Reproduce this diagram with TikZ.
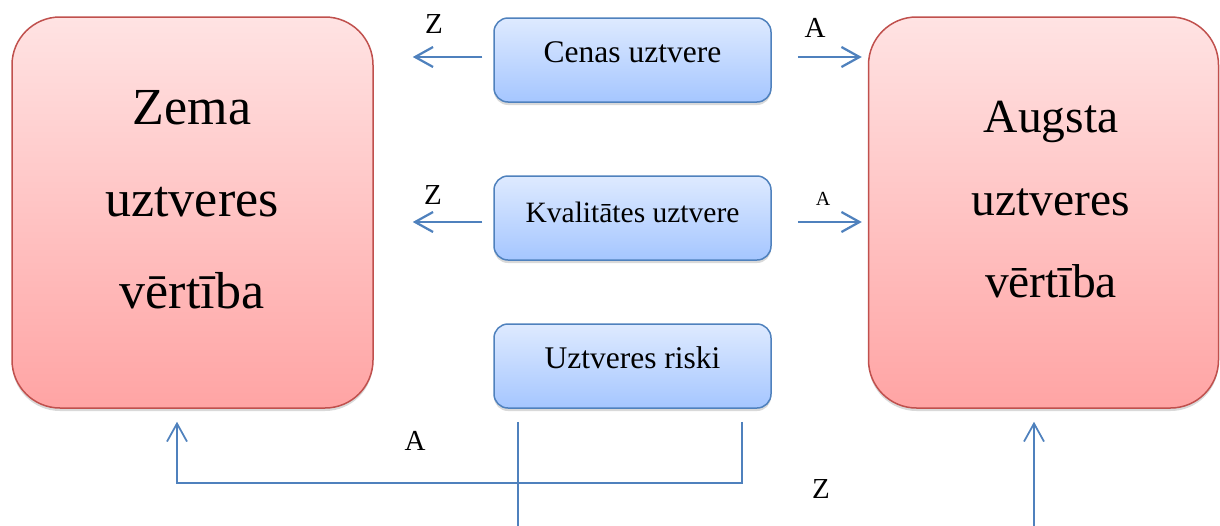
\documentclass[tikz,border=0pt]{standalone}
\usepackage{fontspec}
\setmainfont{Liberation Serif}
\usetikzlibrary{arrows.meta,shadows,calc}
\definecolor{arrblue}{RGB}{79,129,189}
\definecolor{redborder}{RGB}{192,80,77}
\definecolor{redtop}{RGB}{255,227,227}
\definecolor{redbot}{RGB}{255,164,164}
\definecolor{blueborder}{RGB}{79,129,189}
\definecolor{bluetop}{RGB}{222,234,255}
\definecolor{bluebot}{RGB}{165,198,255}
\begin{document}
\begin{tikzpicture}[x=1pt,y=-1pt,
  redbox/.style={draw=redborder, line width=1.5pt, rounded corners=48pt,
    top color=redtop, bottom color=redbot, minimum height=391pt, inner sep=0pt,
    drop shadow={opacity=0.3, shadow xshift=0pt, shadow yshift=-3pt}},
  bluebox/.style={draw=blueborder, line width=1.5pt, rounded corners=14pt,
    top color=bluetop, bottom color=bluebot, minimum width=277pt, minimum height=84pt,
    inner sep=0pt, font=\fontsize{31.5}{36}\selectfont,
    drop shadow={opacity=0.3, shadow xshift=0pt, shadow yshift=-3pt}},
  bigtxt/.style={align=center, inner sep=0pt},
  lbl/.style={anchor=base, inner sep=0pt, font=\fontsize{29}{34}\selectfont},
  arr/.style={draw=arrblue, line width=2.25pt, -{Straight Barb[length=18pt, width=20pt, line width=2.25pt]}},
  arrthin/.style={draw=arrblue, line width=1.75pt, -{Straight Barb[length=18pt, width=20pt, line width=1.75pt]}},
  plain/.style={draw=arrblue, line width=1.75pt}
]
\useasboundingbox (0,0) rectangle (1220,525);
\clip (0,0) rectangle (1220,525);

% big boxes
\node[redbox, minimum width=361pt] (low) at (192.5,212.5) {};
\node[redbox, minimum width=350pt] (high) at (1043.5,212.5) {};
\node[bigtxt, font=\fontsize{52}{92}\selectfont] (lowtxt) at (192,199.5) {Zema\\uztveres\\vērtība};
\node[bigtxt, font=\fontsize{47.5}{82.5}\selectfont] (hightxt) at (1051,200) {Augsta\\uztveres\\vērtība};

% blue boxes
\node[bluebox, text height=12pt, text depth=8pt] (cenas) at (632.5,60) {Cenas uztvere};
\node[bluebox, text height=14pt, text depth=6pt, font=\fontsize{29.5}{34}\selectfont] (kval) at (632.5,218) {Kvalitātes uztvere\hspace{26pt}};
\node[bluebox, text height=12pt, text depth=8pt] (riski) at (632.5,366) {Uztveres riski};

% horizontal arrows
\draw[arr] ($(cenas.west)+(-11,-3)$) -- ($(low.east |- cenas.west)+(39,-3)$);
\draw[arr] ($(cenas.east)+(26,-3)$) -- ($(high.west |- cenas.east)+(-6,-3)$);
\draw[arr] ($(kval.west)+(-11,4)$) -- ($(low.east |- kval.west)+(39,4)$);
\draw[arr] ($(kval.east)+(26,4)$) -- ($(high.west |- kval.east)+(-6,4)$);

% bottom connectors
\draw[arrthin] ($(riski.south east)+(-30,13)$) |- ($(low.south)+(-15.5,74)$) -- ($(low.south)+(-15.5,13)$);
\draw[arrthin] ($(riski.south west)+(25,13)$) -- ($(riski.south west)+(25,140)$) -| ($(high.south)+(-9.5,13)$);

% labels
\node[lbl] (z1) at (434,33) {Z};
\node[lbl] (a1) at (815,37) {A};
\node[lbl] (z2) at (433,204) {Z};
\node[lbl, font=\fontsize{20}{24}\selectfont] (a2) at (823,205) {A};
\node[lbl] (a3) at (415,450) {A};
\node[lbl] (z3) at (821,498) {Z};
\end{tikzpicture}
\end{document}
